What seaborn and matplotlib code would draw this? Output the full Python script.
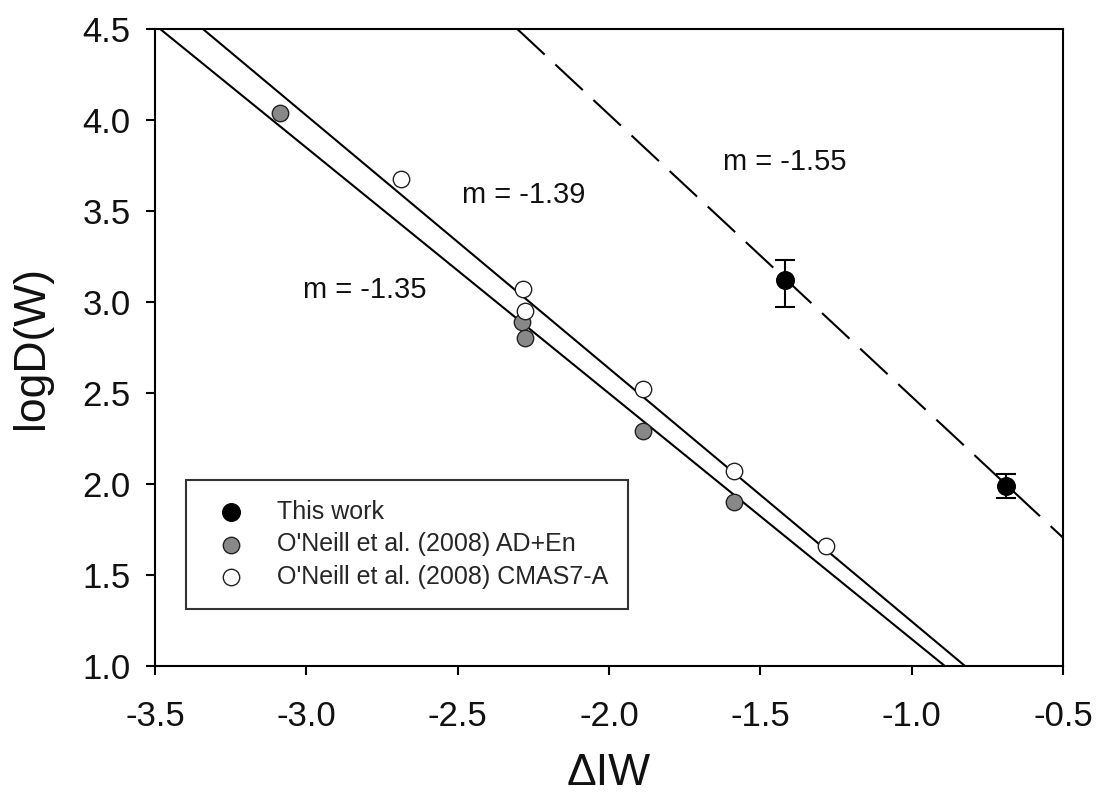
import matplotlib
matplotlib.use("Agg")
import matplotlib.pyplot as plt
import seaborn as sns
import pandas as pd

sns.set_theme(style="white")
plt.rcParams['font.family'] = ['Liberation Sans', 'DejaVu Sans']

# data
this_x = [-1.42, -0.69]
this_y = [3.12, 1.99]
this_err_lo = [0.15, 0.066]
this_err_hi = [0.11, 0.066]

aden_x = [-3.087, -2.288, -2.278, -1.888, -1.587]
aden_y = [4.038, 2.890, 2.802, 2.291, 1.901]

cmas_x = [-2.687, -2.284, -2.278, -1.888, -1.587, -1.283]
cmas_y = [3.676, 3.071, 2.951, 2.522, 2.071, 1.659]

# fitted lines: slope, intercept
fit_slopes = [-1.35, -1.39, -1.55]
fit_intercepts = [-0.202, -0.145, 0.93]
fit_labels = ["m = -1.35", "m = -1.39", "m = -1.55"]
label_pos_x = [-3.011, -2.486, -1.624]
label_pos_y = [3.066, 3.588, 3.769]

x_ticks = [-3.5, -3.0, -2.5, -2.0, -1.5, -1.0, -0.5]
y_ticks = [1.0, 1.5, 2.0, 2.5, 3.0, 3.5, 4.0, 4.5]

this_df = pd.DataFrame({"x": this_x, "y": this_y})
aden_df = pd.DataFrame({"x": aden_x, "y": aden_y})
cmas_df = pd.DataFrame({"x": cmas_x, "y": cmas_y})

fig = plt.figure(figsize=(11, 8.01), dpi=100)
ax = fig.add_axes([0.1409, 0.1685, 0.8255, 0.7953])

# regression lines
styles = ['-', '-', (0, (18, 7))]
for m, b, ls in zip(fit_slopes, fit_intercepts, styles):
    ax.axline((0, b), slope=m, color='black', lw=1.5, linestyle=ls, zorder=1)

ax.errorbar(this_x, this_y, yerr=[this_err_lo, this_err_hi], fmt='none',
            ecolor='black', elinewidth=1.5, capsize=7, capthick=1.5, zorder=2)

sns.scatterplot(data=this_df, x="x", y="y", ax=ax, color='black', s=160,
                edgecolor='black', linewidth=1, label="This work", zorder=3)
sns.scatterplot(data=aden_df, x="x", y="y", ax=ax, color='#888888', s=140,
                edgecolor='#222222', linewidth=1,
                label="O'Neill et al. (2008) AD+En", zorder=3)
sns.scatterplot(data=cmas_df, x="x", y="y", ax=ax, color='white', s=140,
                edgecolor='#222222', linewidth=1,
                label="O'Neill et al. (2008) CMAS7-A", zorder=3)

for t, tx, ty in zip(fit_labels, label_pos_x, label_pos_y):
    ax.text(tx, ty, t, fontsize=21, ha='left', va='center', color='#111111')

ax.set_xlim(-3.5, -0.5)
ax.set_ylim(1.0, 4.5)
ax.set_xticks(x_ticks)
ax.set_yticks(y_ticks)
ax.set_xticklabels([f"{v:.1f}" for v in x_ticks])
ax.set_yticklabels([f"{v:.1f}" for v in y_ticks])
ax.tick_params(axis='both', which='major', labelsize=25, length=6.5, width=1.5,
               direction='out', color='black', labelcolor='#111111',
               bottom=True, left=True, top=False, right=False)
ax.tick_params(axis='x', pad=18)
ax.tick_params(axis='y', pad=11)

for sp in ax.spines.values():
    sp.set_color('black')
    sp.set_linewidth(1.5)

ax.set_xlabel("ΔIW", fontsize=32, labelpad=14, color='#111111')
ax.set_ylabel("logD(W)", fontsize=32, labelpad=22, color='#111111')

leg = ax.legend(loc='upper left', bbox_to_anchor=(0.034, 0.292), fontsize=18,
                frameon=True, fancybox=False, shadow=False, borderpad=0.8,
                handlelength=2.0, handletextpad=0.85, labelspacing=0.33,
                borderaxespad=0)
leg.get_frame().set_edgecolor('black')
leg.get_frame().set_linewidth(1.5)

fig.savefig("out.png", dpi=100)
